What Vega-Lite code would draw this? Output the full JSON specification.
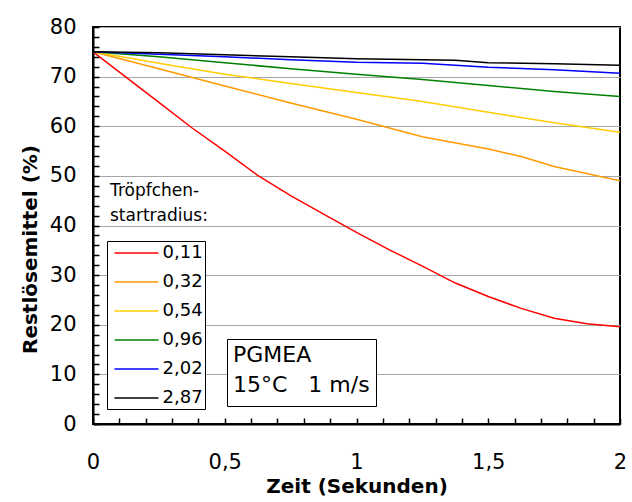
{
  "$schema": "https://vega.github.io/schema/vega-lite/v6.json",
  "width": 527,
  "height": 397,
  "autosize": {"type": "none"},
  "padding": {"left": 93, "top": 27, "right": 12, "bottom": 78},
  "background": "white",
  "config": {
    "font": "DejaVu Sans",
    "view": {"stroke": "black", "strokeWidth": 2},
    "axis": {
      "domainColor": "black",
      "domainWidth": 2,
      "tickColor": "black",
      "tickWidth": 1.5,
      "tickSize": -6,
      "labelColor": "black",
      "labelFontSize": 21,
      "labelFlush": false,
      "labelOverlap": false,
      "titleColor": "black",
      "titleFontSize": 20,
      "titleFontWeight": "bold"
    }
  },
  "data": {
    "values": [
      {"t": 0, "r": "0,11", "v": 75}, {"t": 0.125, "r": "0,11", "v": 69.9}, {"t": 0.25, "r": "0,11", "v": 64.8}, {"t": 0.375, "r": "0,11", "v": 59.7}, {"t": 0.5, "r": "0,11", "v": 55.0}, {"t": 0.625, "r": "0,11", "v": 50.1}, {"t": 0.75, "r": "0,11", "v": 46.0}, {"t": 0.875, "r": "0,11", "v": 42.3}, {"t": 1, "r": "0,11", "v": 38.6}, {"t": 1.125, "r": "0,11", "v": 35.1}, {"t": 1.25, "r": "0,11", "v": 31.8}, {"t": 1.375, "r": "0,11", "v": 28.4}, {"t": 1.5, "r": "0,11", "v": 25.7}, {"t": 1.625, "r": "0,11", "v": 23.3}, {"t": 1.75, "r": "0,11", "v": 21.3}, {"t": 1.875, "r": "0,11", "v": 20.2}, {"t": 2, "r": "0,11", "v": 19.6},
      {"t": 0, "r": "0,32", "v": 75}, {"t": 0.25, "r": "0,32", "v": 71.6}, {"t": 0.5, "r": "0,32", "v": 68.1}, {"t": 0.75, "r": "0,32", "v": 64.7}, {"t": 1, "r": "0,32", "v": 61.4}, {"t": 1.25, "r": "0,32", "v": 57.9}, {"t": 1.5, "r": "0,32", "v": 55.4}, {"t": 1.625, "r": "0,32", "v": 53.9}, {"t": 1.75, "r": "0,32", "v": 51.9}, {"t": 2, "r": "0,32", "v": 49.0},
      {"t": 0, "r": "0,54", "v": 75}, {"t": 0.25, "r": "0,54", "v": 72.7}, {"t": 0.5, "r": "0,54", "v": 70.5}, {"t": 0.75, "r": "0,54", "v": 68.6}, {"t": 1, "r": "0,54", "v": 66.8}, {"t": 1.25, "r": "0,54", "v": 65.0}, {"t": 1.5, "r": "0,54", "v": 62.8}, {"t": 1.75, "r": "0,54", "v": 60.7}, {"t": 2, "r": "0,54", "v": 58.8},
      {"t": 0, "r": "0,96", "v": 75}, {"t": 0.25, "r": "0,96", "v": 74.0}, {"t": 0.5, "r": "0,96", "v": 72.8}, {"t": 0.75, "r": "0,96", "v": 71.6}, {"t": 1, "r": "0,96", "v": 70.5}, {"t": 1.25, "r": "0,96", "v": 69.4}, {"t": 1.5, "r": "0,96", "v": 68.2}, {"t": 1.75, "r": "0,96", "v": 67.0}, {"t": 2, "r": "0,96", "v": 66.0},
      {"t": 0, "r": "2,02", "v": 75}, {"t": 0.25, "r": "2,02", "v": 74.5}, {"t": 0.5, "r": "2,02", "v": 74.0}, {"t": 0.75, "r": "2,02", "v": 73.4}, {"t": 1, "r": "2,02", "v": 72.9}, {"t": 1.25, "r": "2,02", "v": 72.7}, {"t": 1.5, "r": "2,02", "v": 71.9}, {"t": 1.75, "r": "2,02", "v": 71.4}, {"t": 2, "r": "2,02", "v": 70.7},
      {"t": 0, "r": "2,87", "v": 75}, {"t": 0.25, "r": "2,87", "v": 74.8}, {"t": 0.5, "r": "2,87", "v": 74.4}, {"t": 0.75, "r": "2,87", "v": 74.0}, {"t": 1, "r": "2,87", "v": 73.6}, {"t": 1.25, "r": "2,87", "v": 73.4}, {"t": 1.375, "r": "2,87", "v": 73.3}, {"t": 1.5, "r": "2,87", "v": 72.8}, {"t": 1.75, "r": "2,87", "v": 72.6}, {"t": 2, "r": "2,87", "v": 72.3}
    ]
  },
  "layer": [
    {
      "mark": {"type": "line", "strokeWidth": 1.5, "clip": true},
      "encoding": {
        "x": {
          "field": "t", "type": "quantitative",
          "scale": {"domain": [0, 2], "nice": false, "zero": false},
          "axis": {
            "title": "Zeit (Sekunden)",
            "values": [0, 0.1, 0.2, 0.3, 0.4, 0.5, 0.6, 0.7, 0.8, 0.9, 1, 1.1, 1.2, 1.3, 1.4, 1.5, 1.6, 1.7, 1.8, 1.9, 2],
            "tickCount": 100,
            "format": "~g",
            "labelExpr": "round(datum.value*10) % 5 == 0 ? replace(datum.label, '.', ',') : ''",
            "labelPadding": 33,
            "titlePadding": 4,
            "grid": false
          }
        },
        "y": {
          "field": "v", "type": "quantitative",
          "scale": {"domain": [0, 80], "nice": false},
          "axis": {
            "title": "Restlösemittel (%)",
            "values": [0, 2, 4, 6, 8, 10, 12, 14, 16, 18, 20, 22, 24, 26, 28, 30, 32, 34, 36, 38, 40, 42, 44, 46, 48, 50, 52, 54, 56, 58, 60, 62, 64, 66, 68, 70, 72, 74, 76, 78, 80],
            "tickCount": 100,
            "format": "d",
            "labelExpr": "datum.value % 10 == 0 ? datum.label : ''",
            "labelPadding": 23,
            "titlePadding": 9,
            "titleY": 222,
            "grid": true,
            "gridColor": "#a6a6a6",
            "gridWidth": 1,
            "gridOpacity": {"condition": {"test": "datum.value % 10 == 0", "value": 1}, "value": 0}
          }
        },
        "color": {
          "field": "r", "type": "nominal",
          "scale": {
            "domain": ["0,11", "0,32", "0,54", "0,96", "2,02", "2,87"],
            "range": ["#ff0000", "#ff9900", "#ffcc00", "#008000", "#0000ff", "#000000"]
          },
          "legend": {
            "orient": "none",
            "legendX": 14,
            "legendY": 214,
            "title": null,
            "strokeColor": "black",
            "fillColor": "white",
            "padding": 2,
            "symbolType": "M-2.5,0H2.5",
            "symbolSize": 310,
            "symbolStrokeWidth": 1.5,
            "symbolOffset": 17.5,
            "labelFontSize": 18,
            "labelColor": "black",
            "labelOffset": 16,
            "rowPadding": 10
          }
        }
      }
    },
    {
      "data": {"values": [{"info": "info"}]},
      "mark": {"type": "point", "opacity": 0},
      "encoding": {
        "shape": {
          "field": "info", "type": "nominal",
          "legend": {
            "orient": "none",
            "legendX": 134,
            "legendY": 312,
            "title": ["PGMEA", "15°C\u00a0\u00a0\u00a01 m/s"],
            "titleFontSize": 22,
            "titleLineHeight": 30,
            "titleFontWeight": "normal",
            "titleColor": "black",
            "titlePadding": 2,
            "labelExpr": "''",
            "labelFontSize": 1,
            "strokeColor": "black",
            "fillColor": "white",
            "padding": 6,
            "symbolSize": 0,
            "symbolOpacity": 0,
            "symbolStrokeWidth": 0,
            "symbolOffset": 0,
            "labelOffset": 0
          }
        }
      }
    },
    {
      "data": {"values": [{}]},
      "mark": {"type": "text", "align": "left", "baseline": "top", "fontSize": 17, "lineHeight": 25, "color": "black"},
      "encoding": {
        "x": {"datum": 0.0645},
        "y": {"datum": 48.6},
        "text": {"value": ["Tröpfchen-", "startradius:"]}
      }
    }
  ]
}
